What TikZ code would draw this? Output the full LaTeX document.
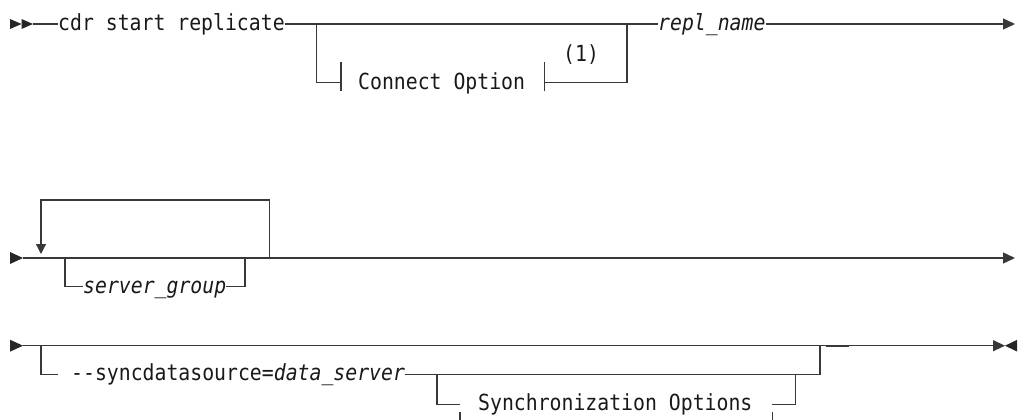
\documentclass[tikz,border=0pt]{standalone}
\usepackage{fontspec}
\setmonofont{DejaVu Sans Mono}
\usetikzlibrary{arrows.meta}
\definecolor{rr}{HTML}{383838}
\newcommand\rrtext[1]{\scalebox{1}[1.12]{#1}}
\tikzset{
  rail/.style={draw=rr, line width=1.3pt},
  railarrow/.style={rail, -{Triangle[length=12pt,width=11pt]}},
  head/.style={fill=black!85},
  txt/.style={anchor=west, inner sep=0pt, text height=14pt, text depth=1.4pt,
    font=\fontsize{19.8}{24}\selectfont\ttfamily, text=black!90},
  itxt/.style={txt, font=\fontsize{19.8}{24}\selectfont\ttfamily\itshape},
  tick/.style={rail}
}
\begin{document}
\begin{tikzpicture}[x=1pt,y=-1pt]
\useasboundingbox (0,0) rectangle (1018,420);

% ---------------- Row 1 ----------------
\coordinate (s1) at (33,24);
\fill[head] (10,19) -- (21.5,24) -- (10,29) -- cycle;
\fill[head] (21.5,19) -- (33,24) -- (21.5,29) -- cycle;
\node[txt] (t1) at (58,24) {\rrtext{cdr start replicate}};
\node[itxt] (rn) at (658,24) {\rrtext{repl\_name}};
\node[txt] (co) at (358,82.7) {\rrtext{Connect Option}};
\node[txt, anchor=base west, text height=, text depth=] (n1) at (563,62) {\rrtext{(1)}};
\coordinate (b1l) at (316.7,24);
\coordinate (b1r) at (627,24);
\coordinate (cl) at (341,82.7);
\coordinate (cr) at (544.3,82.7);
\coordinate (e1) at (1015,24);
\draw[rail] (s1) -- (t1.west);
\draw[rail] (t1.east) -- (rn.west);
\draw[rail] (b1l) |- (cl);
\draw[tick] ([yshift=-8.7pt]cl) -- ([yshift=20.6pt]cl);
\draw[tick] ([yshift=-8.7pt]cr) -- ([yshift=20.6pt]cr);
\draw[rail] (cr) -| (b1r);
\draw[railarrow] (rn.east) -- (e1);

% ---------------- Row 2 ----------------
\coordinate (s2) at (23,258);
\fill[head] (10,252) -- (23,258) -- (10,264) -- cycle;
\coordinate (e2) at (1015,258);
\draw[railarrow] (s2) -- (e2);
\coordinate (lr) at (269.5,258);
\coordinate (ltop) at (41,200);
\coordinate (ld) at (41,254);
\draw[rail, -{Triangle[length=10pt,width=10pt]}] (lr) |- (ltop) -- (ld);
\coordinate (bl2) at (65,258);
\coordinate (br2) at (245,258);
\node[itxt] (sg) at (83,286.7) {\rrtext{server\_group}};
\draw[rail] (bl2) |- (sg.west);
\draw[rail] (sg.east) -| (br2);

% ---------------- Row 3 ----------------
\coordinate (s3) at (23,345.7);
\fill[head] (10,339.7) -- (23,345.7) -- (10,351.7) -- cycle;
\coordinate (e3) at (1005,345.7);
\draw[railarrow] (s3) -- (e3);
\fill[head] (1017,339.9) -- (1005,345.7) -- (1017,351.5) -- cycle;
\draw[draw=rr, line width=2.4pt] (826,345.7) -- (849,345.7);
\coordinate (b3l) at (41,345.7);
\coordinate (b3e) at (58,374.3);
\node[txt] (sync) at (71,374.3) {\rrtext{-{}-syncdatasource=\textit{data\_server}}};
\coordinate (b3r) at (820,345.7);
\draw[rail] (b3l) |- (b3e);
\draw[rail] (sync.east) -| (b3r);
\coordinate (sbl) at (437,374.3);
\coordinate (sbr) at (795.7,374.3);
\coordinate (sl) at (460,404.3);
\coordinate (sr) at (772.3,404.3);
\node[txt] (so) at (478,404.3) {\rrtext{Synchronization Options}};
\draw[rail] (sbl) |- (sl);
\draw[tick] ([yshift=-7.6pt]sl) -- (sl |- 0,420);
\draw[tick] ([yshift=-7.6pt]sr) -- (sr |- 0,420);
\draw[rail] (sr) -| (sbr);
\end{tikzpicture}
\end{document}
